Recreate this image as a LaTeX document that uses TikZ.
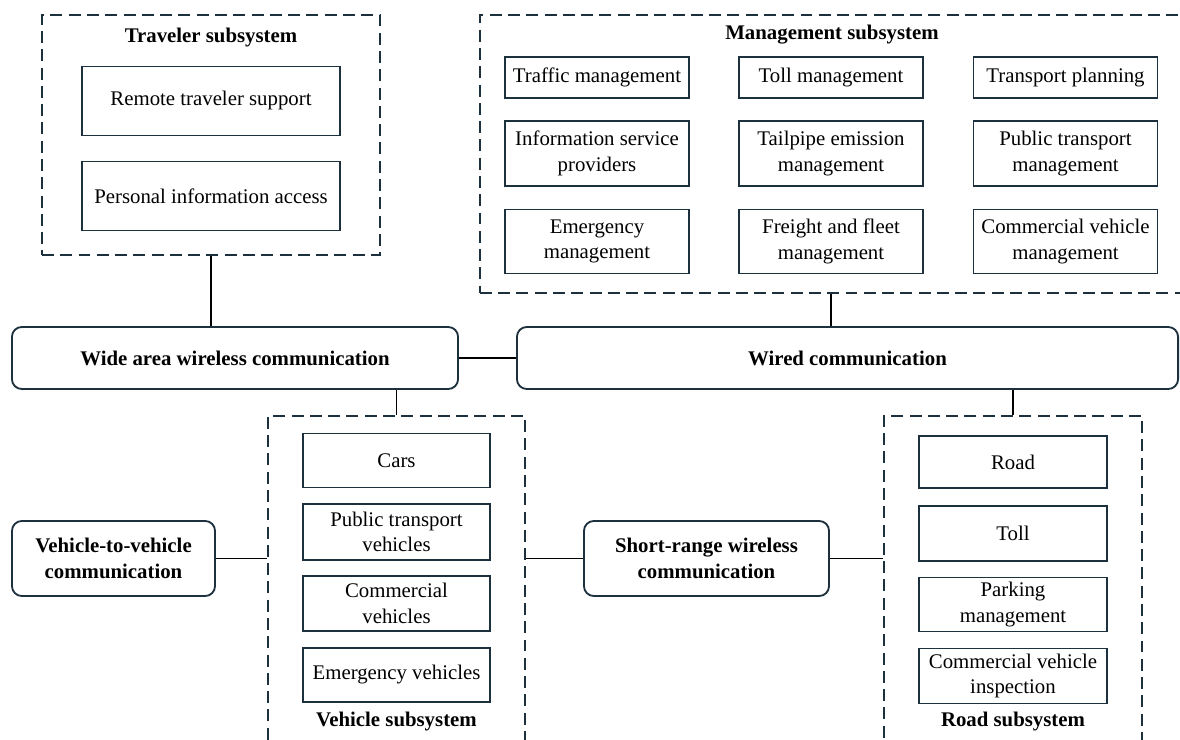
\documentclass[tikz,border=0pt]{standalone}
\usepackage{fontspec}
\setmainfont{Liberation Serif}
\usetikzlibrary{positioning, calc}
\definecolor{edgeslate}{RGB}{28, 48, 62}
\tikzstyle{unit} = [rectangle, draw=edgeslate, line width=1.3pt, text centered, align=center, inner sep=1pt, font=\fontsize{14.8}{18}\selectfont]
\tikzstyle{comm} = [rectangle, rounded corners=7pt, draw=edgeslate, line width=1.3pt, text centered, align=center, inner sep=1pt, font=\fontsize{14.8}{18}\selectfont\bfseries]
\tikzstyle{group} = [rectangle, draw=edgeslate, line width=1.3pt, dash pattern=on 8.5pt off 4.5pt, inner sep=0pt]
\tikzstyle{title} = [font=\fontsize{14.8}{18}\selectfont\bfseries]
\tikzstyle{link} = [line width=1.2pt, draw=black]

\begin{document}
\begin{tikzpicture}[x=0.025cm, y=-0.025cm]
\clip (0,0) rectangle (1180,740);
\fill[white] (0,0) rectangle (1180,740);

% Traveler
\node (trav) [group, minimum width=8.45cm, minimum height=6cm] at (211,135) {};
\node (travtitle) [title] at (211,38) {Traveler subsystem};
\node (rts) [unit, minimum width=6.45cm, minimum height=1.725cm] at (211,101) {Remote traveler support};
\node (pia) [unit, minimum width=6.45cm, minimum height=1.725cm, below of=rts, node distance=2.375cm] {Personal information access};

% Management
\node (mgmt) [group, minimum width=18.5cm, minimum height=6.95cm] at (850,154) {};
\node (mgmttitle) [title] at (832,35) {Management subsystem};
\node (traffic) [unit, minimum width=4.6cm, minimum height=1.025cm] at (597,77.5) {Traffic management};
\node (toll) [unit, minimum width=4.6cm, minimum height=1.025cm] at (831,77.5) {Toll management};
\node (plan) [unit, minimum width=4.6cm, minimum height=1.025cm] at (1065.5,77.5) {Transport planning};
\node (isp) [unit, minimum width=4.6cm, minimum height=1.625cm, below of=traffic, node distance=1.9cm] {Information service\\providers};
\node (tailpipe) [unit, minimum width=4.6cm, minimum height=1.625cm, below of=toll, node distance=1.9cm] {Tailpipe emission\\management};
\node (ptm) [unit, minimum width=4.6cm, minimum height=1.625cm, below of=plan, node distance=1.9cm] {Public transport\\management};
\node (emerg) [unit, minimum width=4.6cm, minimum height=1.6cm, below of=isp, node distance=2.2cm] {Emergency\\management};
\node (freight) [unit, minimum width=4.6cm, minimum height=1.6cm, below of=tailpipe, node distance=2.2cm] {Freight and fleet\\management};
\node (cvm) [unit, minimum width=4.6cm, minimum height=1.6cm, below of=ptm, node distance=2.2cm] {Commercial vehicle\\management};

% Communication
\node (wide) [comm, minimum width=11.15cm, minimum height=1.55cm] at (235,358) {Wide area wireless communication};
\node (wired) [comm, minimum width=16.525cm, minimum height=1.55cm] at (847.5,358) {Wired communication};
\node (v2v) [comm, minimum width=5.075cm, minimum height=1.875cm] at (113.5,558.5) {Vehicle-to-vehicle\\communication};
\node (srw) [comm, minimum width=6.125cm, minimum height=1.875cm] at (706.5,558.5) {Short-range wireless\\communication};

% Vehicle
\node (veh) [group, minimum width=6.425cm, minimum height=8.6cm] at (396.5,588) {};
\node (cars) [unit, minimum width=4.675cm, minimum height=1.35cm] at (396.5,460.5) {Cars};
\node (ptv) [unit, minimum width=4.675cm, minimum height=1.4cm, below of=cars, node distance=1.79cm] {Public transport\\vehicles};
\node (cv) [unit, minimum width=4.675cm, minimum height=1.375cm, below of=ptv, node distance=1.78cm] {Commercial\\vehicles};
\node (ev) [unit, minimum width=4.675cm, minimum height=1.35cm, below of=cv, node distance=1.79cm] {Emergency vehicles};
\node (vehtitle) [title] at (396.5,722) {Vehicle subsystem};

% Road
\node (road) [group, minimum width=6.45cm, minimum height=8.6cm] at (1013,588) {};
\node (rd) [unit, minimum width=4.7cm, minimum height=1.3cm] at (1013,462) {Road};
\node (rtoll) [unit, minimum width=4.7cm, minimum height=1.375cm, below of=rd, node distance=1.79cm] {Toll};
\node (park) [unit, minimum width=4.7cm, minimum height=1.35cm, below of=rtoll, node distance=1.77cm] {Parking\\management};
\node (cvi) [unit, minimum width=4.7cm, minimum height=1.375cm, below of=park, node distance=1.79cm] {Commercial vehicle\\inspection};
\node (roadtitle) [title] at (1013,722) {Road subsystem};

% Links
\draw [link] (trav.south) -- (trav.south |- wide.north);
\draw [link] (toll |- mgmt.south) -- (toll |- wired.north);
\draw [link] (wide.east) -- (wired.west);
\draw [link] (veh.north) -- (veh.north |- wide.south);
\draw [link] (road.north) -- (road.north |- wired.south);
\draw [link] (v2v.east) -- (v2v.east -| veh.west);
\draw [link] (srw.west -| veh.east) -- (srw.west);
\draw [link] (srw.east) -- (srw.east -| road.west);

\end{tikzpicture}
\end{document}
